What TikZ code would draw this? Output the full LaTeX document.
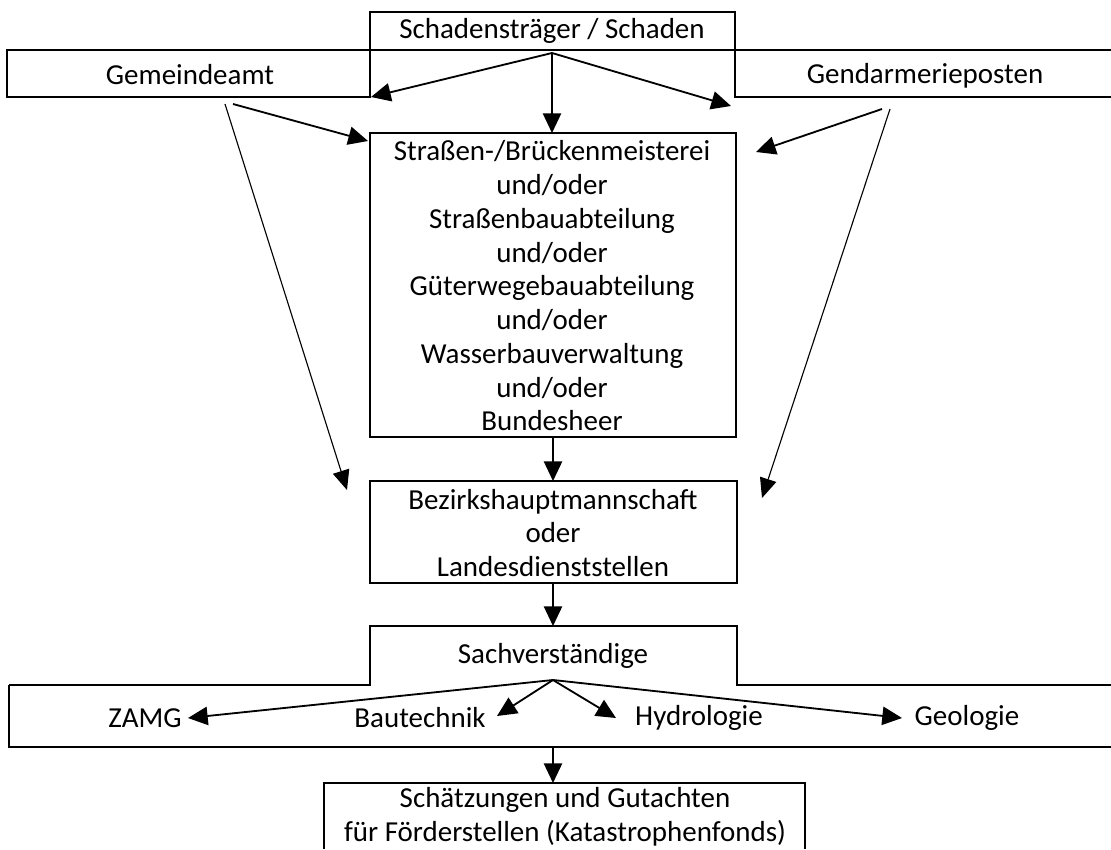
\documentclass[tikz,border=0pt]{standalone}
\usepackage{fontspec}
\setmainfont{Carlito}
\usetikzlibrary{arrows.meta}
\begin{document}
\begin{tikzpicture}[x=0.025cm,y=-0.025cm,
  box/.style={line width=1pt},
  lbl/.style={inner sep=0pt, font=\fontsize{20.6}{24}\selectfont, align=center},
  arr/.style={line width=1.3pt, -{Triangle[length=14pt,width=13pt]}},
  slim/.style={line width=0.8pt, -{Triangle[length=14pt,width=12pt]}}
]
\useasboundingbox (0,0) rectangle (1111,849);
% boxes
\draw[box] (370,12) rectangle (735,50);
\draw[box] (7,50) rectangle (370,97);
\draw[box] (1111,50) -- (735,50) -- (735,97) -- (1111,97);
\draw[box] (370,133) rectangle (736,437);
\draw[box] (370,481) rectangle (737,583);
\draw[box] (9,685) -- (370,685) -- (370,626) -- (737,626) -- (737,685) -- (1111,685);
\draw[box] (9,685) -- (9,747) -- (1111,747);
\draw[box] (324,849) -- (324,783) -- (805,783) -- (805,849);
% texts
\node[lbl] (schaden) at (552,31) {Schadensträger / Schaden};
\node[lbl] (gemeinde) at (190,75) {Gemeindeamt};
\node[lbl] (gendarm) at (925,76) {Gendarmerieposten};
\node[lbl] (strassen) at (552,286) {Straßen-/Brückenmeisterei\\und/oder\\Straßenbauabteilung\\und/oder\\Güterwegebauabteilung\\und/oder\\Wasserbauverwaltung\\und/oder\\Bundesheer};
\node[lbl] (bezirk) at (553,533) {Bezirkshauptmannschaft\\oder\\Landesdienststellen};
\node[lbl] (sachv) at (553,656) {Sachverständige};
\node[lbl] (zamg) at (145,718) {ZAMG};
\node[lbl] (bau) at (420,718) {Bautechnik};
\node[lbl] (hydro) at (699,718) {Hydrologie};
\node[lbl] (geo) at (967,718) {Geologie};
\node[lbl] (schaetz) at (565,817) {Schätzungen und Gutachten\\für Förderstellen (Katastrophenfonds)};
% connector points
\coordinate (sOut) at (552,53);
\coordinate (gemIn) at (371,97);
\coordinate (strIn) at (552,133);
\coordinate (genIn) at (731,106);
\coordinate (gemOutA) at (233,104);
\coordinate (gemOutB) at (225,104);
\coordinate (strInL) at (368,141);
\coordinate (bezInL) at (347,490);
\coordinate (genOutA) at (882,109);
\coordinate (genOutB) at (890,109);
\coordinate (strInR) at (756,152);
\coordinate (bezInR) at (762,498);
\coordinate (strOut) at (553,437);
\coordinate (bezIn) at (553,481);
\coordinate (bezOut) at (553,583);
\coordinate (sachIn) at (553,626);
\coordinate (junc) at (553,680);
\coordinate (zamgIn) at (188,718);
\coordinate (bauIn) at (497,716);
\coordinate (hydIn) at (616,718);
\coordinate (geoIn) at (902,718);
\coordinate (bandOut) at (553,747);
\coordinate (schIn) at (553,783);
% connectors
\draw[arr] (sOut) -- (gemIn);
\draw[arr] (sOut) -- (strIn);
\draw[arr] (sOut) -- (genIn);
\draw[arr] (gemOutA) -- (strInL);
\draw[slim] (gemOutB) -- (bezInL);
\draw[arr] (genOutA) -- (strInR);
\draw[slim] (genOutB) -- (bezInR);
\draw[arr] (strOut) -- (bezIn);
\draw[arr] (bezOut) -- (sachIn);
\draw[arr] (junc) -- (zamgIn);
\draw[arr] (junc) -- (bauIn);
\draw[arr] (junc) -- (hydIn);
\draw[arr] (junc) -- (geoIn);
\draw[arr] (bandOut) -- (schIn);
\end{tikzpicture}
\end{document}
